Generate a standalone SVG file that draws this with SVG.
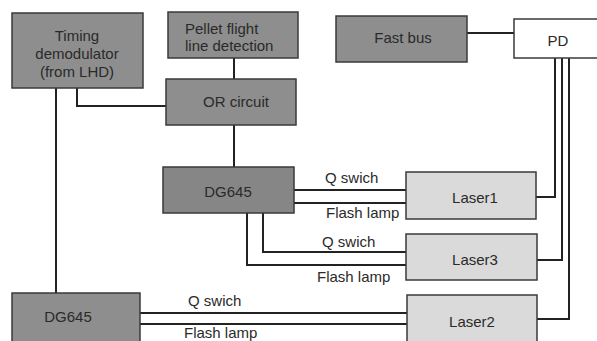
<svg xmlns="http://www.w3.org/2000/svg" width="597" height="341" viewBox="0 0 597 341">
<style>
.dark{fill:#8e8e8e;stroke:#3a3a3a;stroke-width:1.5}
.dg{fill:#868686;stroke:#3a3a3a;stroke-width:1.5}
.laser{fill:#dadada;stroke:#3a3a3a;stroke-width:1.5}
.white{fill:#ffffff;stroke:#3a3a3a;stroke-width:1.5}
text{font-family:"Liberation Sans",Arial,sans-serif;font-size:15px;fill:#2a2a2a}
.c{text-anchor:middle}
.ln{fill:none;stroke:#222;stroke-width:2}
</style>
<rect width="597" height="341" fill="#ffffff"/>
<g id="connectors">
<path class="ln" d="M234,58V79"/>
<path class="ln" d="M234,125V167"/>
<path class="ln" d="M77,88V106H166"/>
<path class="ln" d="M56,88V293"/>
<path class="ln" d="M467,33H514"/>
<path class="ln" d="M294,190H406"/>
<path class="ln" d="M294,203H406"/>
<path class="ln" d="M263,213V252H406"/>
<path class="ln" d="M247,213V265H406"/>
<path class="ln" d="M140,313H407"/>
<path class="ln" d="M140,324H407"/>
<path class="ln" d="M536,197H555V58"/>
<path class="ln" d="M537,260H562V58"/>
<path class="ln" d="M537,319H569V58"/>
<text x="325" y="183">Q swich</text>
<text x="326" y="218">Flash lamp</text>
<text x="322" y="247">Q swich</text>
<text x="317" y="282">Flash lamp</text>
<text x="188" y="306">Q swich</text>
<text x="184" y="338">Flash lamp</text>
</g>
<g id="timing">
<rect class="dark" x="12" y="13" width="131" height="75"/>
<text class="c" x="77" y="41">Timing</text>
<text class="c" x="77" y="59">demodulator</text>
<text class="c" x="77" y="77">(from LHD)</text>
</g>
<g id="pellet">
<rect class="dark" x="168" y="12" width="130" height="46"/>
<text x="185" y="34">Pellet flight</text>
<text x="185" y="51">line detection</text>
</g>
<g id="or">
<rect class="dark" x="166" y="79" width="130" height="46"/>
<text class="c" x="236" y="107">OR circuit</text>
</g>
<g id="fastbus">
<rect class="dark" x="336" y="16" width="131" height="46"/>
<text class="c" x="403" y="43">Fast bus</text>
</g>
<g id="pd">
<rect class="white" x="514" y="19" width="90" height="39"/>
<text class="c" x="558" y="46">PD</text>
</g>
<g id="dg645a">
<rect class="dg" x="163" y="167" width="131" height="46"/>
<text class="c" x="228" y="197">DG645</text>
</g>
<g id="dg645b">
<rect class="dark" x="12" y="293" width="128" height="55"/>
<text class="c" x="68" y="322">DG645</text>
</g>
<g id="laser1">
<rect class="laser" x="406" y="172" width="130" height="47"/>
<text class="c" x="475" y="203">Laser1</text>
</g>
<g id="laser3">
<rect class="laser" x="406" y="234" width="131" height="46"/>
<text class="c" x="475" y="265">Laser3</text>
</g>
<g id="laser2">
<rect class="laser" x="407" y="295" width="130" height="55"/>
<text class="c" x="472" y="327">Laser2</text>
</g>
</svg>
